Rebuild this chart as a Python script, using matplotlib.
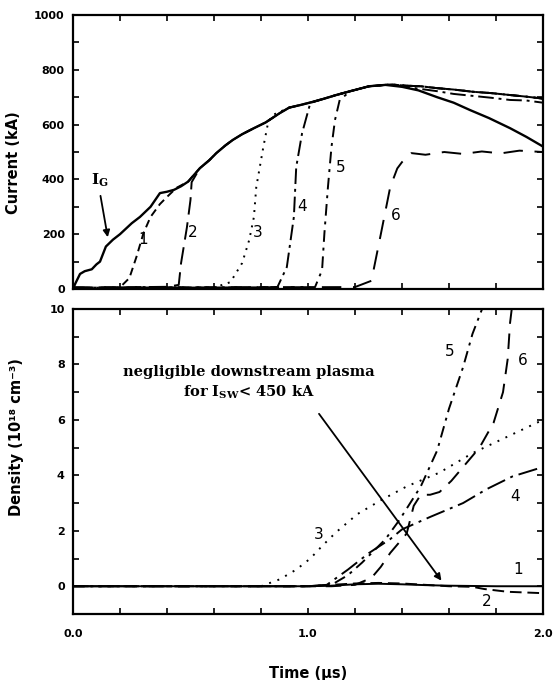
import numpy as np
import matplotlib.pyplot as plt
from matplotlib.ticker import MultipleLocator

plt.rcParams['font.family'] = ['DejaVu Sans']
plt.rcParams['mathtext.fontset'] = 'dejavuserif'

# ---- top panel: current traces (time in us, current in kA) ----
t_ig = [0, 0.01, 0.03, 0.05, 0.08, 0.10, 0.115, 0.14, 0.17, 0.20, 0.25, 0.285, 0.33, 0.37,
        0.40, 0.43, 0.46, 0.49, 0.54, 0.58, 0.61, 0.65, 0.68, 0.72, 0.77, 0.82, 0.88, 0.92,
        0.97, 1.02, 1.07, 1.12, 1.18, 1.26, 1.33, 1.40, 1.47, 1.55, 1.62, 1.69, 1.77, 1.86,
        1.93, 2.0]
i_ig = [0, 20, 55, 65, 72, 90, 100, 155, 180, 200, 240, 263, 300, 350,
        355, 362, 375, 392, 441, 470, 496, 525, 544, 565, 587, 608, 642, 662,
        672, 683, 695, 708, 722, 740, 745, 738, 725, 700, 680, 653, 624, 587,
        555, 520]

# late part of switched currents (stay high while I_G falls)
t_late = [1.36, 1.42, 1.48, 1.55, 1.62, 1.70, 1.78, 1.86, 1.93, 2.0]
i_late_a = [746, 742, 740, 733, 728, 720, 715, 708, 702, 695]
i_late_b = [744, 738, 730, 722, 712, 705, 698, 690, 688, 680]

rise_t = {
    1: [0, 0.10, 0.20, 0.24, 0.27, 0.30, 0.33, 0.37, 0.40, 0.44],
    2: [0, 0.20, 0.40, 0.45, 0.46, 0.485, 0.50, 0.505],
    3: [0, 0.30, 0.60, 0.67, 0.72, 0.75, 0.77, 0.78, 0.81, 0.83, 0.85],
    4: [0, 0.40, 0.80, 0.87, 0.91, 0.94, 0.95, 0.975, 1.01],
    5: [0, 0.50, 0.95, 1.03, 1.06, 1.07, 1.085, 1.10, 1.115, 1.135],
}
rise_i = {
    1: [5, 3, 6, 40, 117, 204, 263, 310, 336, 369],
    2: [5, 6, 8, 15, 95, 226, 325, 390],
    3: [4, 6, 5, 25, 95, 179, 263, 372, 518, 606, 635],
    4: [5, 5, 6, 7, 80, 263, 445, 569, 679],
    5: [5, 6, 7, 7, 69, 204, 372, 518, 617, 690],
}
t_c6 = [0, 0.6, 1.2, 1.27, 1.31, 1.35, 1.38, 1.40, 1.44, 1.50, 1.58, 1.66, 1.74, 1.82, 1.90, 2.0]
i_c6 = [5, 6, 7, 30, 200, 372, 440, 463, 496, 490, 500, 493, 502, 495, 505, 500]

top_labels = {1: (0.30, 180), 2: (0.51, 205), 3: (0.785, 205), 4: (0.975, 300),
              5: (1.14, 442), 6: (1.375, 270)}

# ---- bottom panel: downstream density (10^18 cm^-3) ----
t_d1 = [0, 0.5, 1.0, 1.1, 1.2, 1.3, 1.4, 1.5, 1.6, 1.8, 2.0]
d_d1 = [0, 0, 0, 0.02, 0.07, 0.09, 0.07, 0.04, 0.02, 0, 0]
t_d2 = [0, 0.8, 1.0, 1.1, 1.2, 1.3, 1.4, 1.5, 1.6, 1.7, 1.75, 1.85, 2.0]
d_d2 = [0, 0, 0, 0.05, 0.1, 0.12, 0.1, 0.05, 0, -0.02, -0.1, -0.2, -0.25]
t_d3 = [0.80, 0.88, 0.95, 1.01, 1.06, 1.12, 1.21, 1.31, 1.42, 1.56, 1.70, 1.85, 2.0]
d_d3 = [0, 0.25, 0.6, 1.0, 1.45, 1.95, 2.6, 3.1, 3.6, 4.1, 4.8, 5.4, 6.0]
t_d4 = [0, 1.0, 1.08, 1.17, 1.26, 1.35, 1.40, 1.52, 1.66, 1.76, 1.87, 2.0]
d_d4 = [0, 0, 0.05, 0.6, 1.2, 1.7, 2.05, 2.5, 3.0, 3.5, 3.96, 4.3]
t_d5 = [0, 1.0, 1.10, 1.17, 1.23, 1.33, 1.39, 1.48, 1.55, 1.60, 1.66, 1.70, 1.75]
d_d5 = [0, 0, 0.05, 0.4, 0.85, 1.7, 2.4, 3.6, 4.9, 6.4, 7.9, 9.1, 10.2]
t_d6 = [0, 1.1, 1.2, 1.27, 1.31, 1.35, 1.42, 1.45, 1.48, 1.52, 1.56, 1.61, 1.66, 1.73,
        1.79, 1.83, 1.85, 1.86, 1.87]
d_d6 = [0, 0, 0.05, 0.3, 0.7, 1.2, 1.9, 2.9, 3.3, 3.3, 3.4, 3.8, 4.3, 5.0,
        5.9, 7.0, 8.2, 9.5, 10.2]

bot_labels = {1: (1.895, 0.6), 2: (1.76, -0.55), 3: (1.045, 1.85), 4: (1.88, 3.25),
              5: (1.605, 8.45), 6: (1.915, 8.15)}


def switched(k, late):
    # rise of curve k, then along I_G, then the high late branch
    t0 = rise_t[k][-1]
    tt = list(rise_t[k]) + [t for t in t_ig if t0 + 0.03 < t < t_late[0]] + t_late
    ii = list(rise_i[k]) + [v for t, v in zip(t_ig, i_ig) if t0 + 0.03 < t < t_late[0]] + late
    return tt, ii


fig = plt.figure(figsize=(5.55, 6.8), dpi=100)
ax1 = fig.add_axes([0.1315, 0.575, 0.8468, 0.4029])
ax2 = fig.add_axes([0.1315, 0.0971, 0.8468, 0.4485])

styles_top = {1: (4, 2.5), 2: (9, 4), 3: (1, 3), 4: (8, 2.5, 1.5, 2.5), 5: (6, 3, 1.5, 3)}
lw = 1.4
ax1.plot(t_ig, i_ig, color='k', lw=1.7)
for k in range(1, 6):
    tt, ii = switched(k, i_late_b if k == 4 else i_late_a)
    ax1.plot(tt, ii, color='k', lw=lw, dashes=styles_top[k])
ax1.plot(t_c6, i_c6, color='k', lw=lw, dashes=(10, 6))

for k, (x, y) in top_labels.items():
    ax1.text(x, y, str(k), fontsize=11, ha='center', va='center')

ax1.text(0.115, 398, r'$\mathbf{I_G}$', fontsize=11, ha='center', va='center')
ax1.annotate('', xy=(0.15, 179), xytext=(0.115, 350),
             arrowprops=dict(arrowstyle='-|>', color='k', lw=1.3, mutation_scale=10))

ax1.set_xlim(0, 2)
ax1.set_ylim(0, 1000)
ax1.yaxis.set_major_locator(MultipleLocator(200))
ax1.yaxis.set_minor_locator(MultipleLocator(100))
ax1.set_ylabel('Current (kA)', fontsize=10.5, fontweight='bold')
ax1.yaxis.set_label_coords(-0.111, 0.46)
ax1.tick_params(labelbottom=False)

# bottom
ax2.plot(t_d1, d_d1, color='k', lw=lw)
ax2.plot(t_d2, d_d2, color='k', lw=lw, dashes=(6, 3))
ax2.plot(t_d3, d_d3, color='k', lw=lw, dashes=(1, 3.5))
ax2.plot(t_d4, d_d4, color='k', lw=lw, dashes=(10, 3, 1.5, 3))
ax2.plot(t_d5, d_d5, color='k', lw=lw, dashes=(6, 3, 1.5, 3))
ax2.plot(t_d6, d_d6, color='k', lw=lw, dashes=(8, 5))

for k, (x, y) in bot_labels.items():
    ax2.text(x, y, str(k), fontsize=11, ha='center', va='center')

ax2.text(0.749, 7.73, 'negligible downstream plasma', family='DejaVu Serif',
         fontweight='bold', fontsize=10.5, ha='center', va='center')
ax2.text(0.749, 7.0, r'for $\mathbf{I_{SW}}$< 450 kA', family='DejaVu Serif',
         fontweight='bold', fontsize=10.5, ha='center', va='center')
ax2.annotate('', xy=(1.575, 0.12), xytext=(1.04, 6.3),
             arrowprops=dict(arrowstyle='-|>', color='k', lw=1.3, mutation_scale=10))

ax2.set_xlim(0, 2)
ax2.set_ylim(-1, 10)
ax2.yaxis.set_major_locator(MultipleLocator(2))
ax2.yaxis.set_minor_locator(MultipleLocator(1))
ax2.set_xticks([0, 1, 2])
ax2.set_xticklabels(['0.0', '1.0', '2.0'])
ax2.set_ylabel('Density (10¹⁸ cm⁻³)', fontsize=10.5, fontweight='bold')
ax2.yaxis.set_label_coords(-0.104, 0.58)
ax2.set_xlabel('Time (µs)', fontsize=10.5, fontweight='bold', labelpad=19)

for ax in (ax1, ax2):
    ax.xaxis.set_major_locator(MultipleLocator(1)) if ax is ax1 else None
    ax.xaxis.set_minor_locator(MultipleLocator(0.2))
    for s in ax.spines.values():
        s.set_linewidth(1.6)
    ax.tick_params(which='both', direction='in', top=True, right=True,
                   width=1.2, labelsize=8)
    ax.tick_params(which='major', length=4)
    ax.tick_params(which='minor', length=4)
    ax.tick_params(axis='y', pad=6)
    ax.tick_params(axis='x', pad=11)
    for lab in ax.get_xticklabels() + ax.get_yticklabels():
        lab.set_fontweight('bold')

plt.savefig('out.png', dpi=100)
